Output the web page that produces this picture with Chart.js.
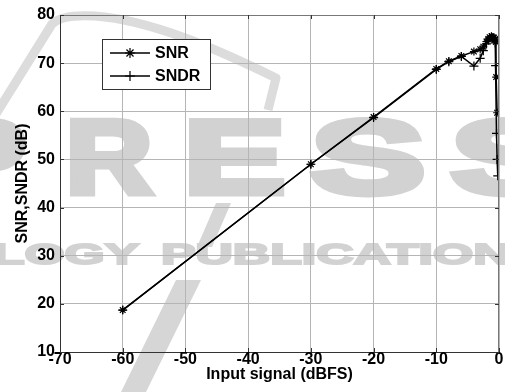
<!DOCTYPE html>
<html>
<head>
<meta charset="utf-8">
<script src="https://cdn.jsdelivr.net/npm/chart.js@4.4.0/dist/chart.umd.min.js"></script>
<style>
  html, body { margin: 0; padding: 0; background: #fff; }
</style>
</head>
<body>
<canvas id="snrChart" width="505" height="392"></canvas>
<script>
// SNR / SNDR vs input level
const snrInput   = [-60, -30, -20, -10, -8, -6, -4, -3, -2.5, -2, -1.7, -1.5, -1.2, -1, -0.8, -0.6, -0.5, -0.45, -0.3];
const snrValues  = [18.7, 49.0, 58.8, 68.8, 70.4, 71.5, 72.4, 72.9, 73.4, 74.5, 75.0, 75.4, 75.6, 75.4, 75.3, 75.0, 74.4, 67.1, 59.7];
const sndrInput  = [-60, -30, -20, -10, -8, -6, -4, -3, -2.5, -2, -1.7, -1.5, -1.2, -1, -0.8, -0.6, -0.55, -0.4, -0.3, -0.2];
const sndrValues = [18.7, 49.0, 58.7, 68.7, 70.3, 71.4, 69.4, 71.0, 72.6, 74.0, 74.8, 75.2, 75.4, 75.2, 75.0, 74.2, 69.5, 55.4, 50.0, 46.6];

const xMin = -70, xMax = 0, xStep = 10;
const yMin = 10, yMax = 80, yStep = 10;

const FONT = '"Liberation Sans", Arial, Helvetica, sans-serif';

function toPoints(xs, ys) {
  return xs.map((x, i) => ({ x: x, y: ys[i] }));
}

// draw a word stretched into [x0, x1] and thickened with a stroke
function wideText(c, txt, x0, x1, base, lw) {
  const w = c.measureText(txt).width;
  const sx = (x1 - x0) / w;
  c.save();
  c.translate(x0, base);
  c.scale(sx, 1);
  c.lineWidth = lw;
  c.fillText(txt, 0, 0);
  c.strokeText(txt, 0, 0);
  c.restore();
}

// publisher watermark behind the plot
const watermark = {
  id: 'watermark',
  beforeDraw(chart) {
    const c = chart.ctx;
    c.save();
    // swoosh
    c.strokeStyle = '#dcdcdc';
    c.lineWidth = 9;
    c.lineJoin = 'round';
    c.beginPath();
    c.moveTo(-4, 114);
    c.lineTo(52, 24);
    c.quadraticCurveTo(62, 14, 95, 16);
    c.bezierCurveTo(150, 20, 215, 48, 276, 78);
    c.lineTo(268, 110);
    c.stroke();
    // slashes
    c.fillStyle = '#d6d6d6';
    [[[176, 280], [201, 280], [146, 392], [121, 392]],
     [[216, 203], [231, 203], [212, 247], [197, 247]]].forEach(poly => {
      c.beginPath();
      c.moveTo(poly[0][0], poly[0][1]);
      poly.slice(1).forEach(p => c.lineTo(p[0], p[1]));
      c.closePath();
      c.fill();
    });
    // big letters
    c.fillStyle = '#d2d2d2';
    c.strokeStyle = '#d2d2d2';
    c.lineJoin = 'miter';
    c.textBaseline = 'alphabetic';
    c.font = 'bold 104px ' + FONT;
    [['P', -58, 26], ['R', 66, 152], ['E', 184, 285], ['S', 311, 425], ['S', 451, 565]].forEach(l => {
      wideText(c, l[0], l[1], l[2], 193, 7);
    });
    c.font = 'bold 30px ' + FONT;
    wideText(c, 'LOGY', -7, 139, 264, 2);
    wideText(c, 'PUBLICATIONS', 161, 545, 264, 2);
    c.restore();
  }
};

// top + right border of the box, inward ticks
const framePlugin = {
  id: 'frame',
  afterDraw(chart) {
    const a = chart.chartArea;
    const c = chart.ctx;
    const xs = chart.scales.x, ys = chart.scales.y;
    c.save();
    c.strokeStyle = '#777';
    c.lineWidth = 1;
    c.beginPath();
    c.moveTo(a.left, a.top + 0.5);
    c.lineTo(a.right - 0.5, a.top + 0.5);
    c.lineTo(a.right - 0.5, a.bottom);
    c.stroke();
    c.strokeStyle = '#333';
    c.beginPath();
    xs.ticks.forEach(t => {
      const px = Math.round(xs.getPixelForValue(t.value)) + 0.5;
      c.moveTo(px, a.bottom); c.lineTo(px, a.bottom - 4);
      c.moveTo(px, a.top); c.lineTo(px, a.top + 4);
    });
    ys.ticks.forEach(t => {
      const py = Math.round(ys.getPixelForValue(t.value)) + 0.5;
      c.moveTo(a.left, py); c.lineTo(a.left + 4, py);
      c.moveTo(a.right, py); c.lineTo(a.right - 4, py);
    });
    c.stroke();
    c.restore();
  }
};

// matlab style legend box inside the axes
const legendBox = {
  id: 'legendBox',
  afterDraw(chart) {
    const c = chart.ctx;
    const x0 = 102.5, y0 = 39.5, w = 108, h = 50;
    c.save();
    c.fillStyle = '#fff';
    c.fillRect(x0, y0, w, h);
    c.strokeStyle = '#333';
    c.lineWidth = 1;
    c.strokeRect(x0, y0, w, h);
    chart.data.datasets.forEach((ds, i) => {
      const y = 53 + i * 23;
      c.strokeStyle = '#000';
      c.lineWidth = 1.5;
      c.beginPath();
      c.moveTo(110, y);
      c.lineTo(150, y);
      c.stroke();
      c.lineWidth = 1.2;
      Chart.helpers.drawPoint(c, { pointStyle: ds.pointStyle, radius: 5, rotation: 0, borderWidth: 1.2 }, 130, y);
      c.fillStyle = '#000';
      c.font = 'bold 16px ' + FONT;
      c.textBaseline = 'middle';
      c.fillText(ds.label, 155, y + 1);
    });
    c.restore();
  }
};

const ctx = document.getElementById('snrChart').getContext('2d');
const chart = new Chart(ctx, {
  type: 'line',
  data: {
    datasets: [{
      label: 'SNR',
      data: toPoints(snrInput, snrValues),
      borderColor: '#000',
      backgroundColor: '#000',
      borderWidth: 1.5,
      pointStyle: 'star',
      pointRadius: 4,
      pointBorderWidth: 1.2,
      pointBorderColor: '#000',
      fill: false,
      tension: 0
    }, {
      label: 'SNDR',
      data: toPoints(sndrInput, sndrValues),
      borderColor: '#000',
      backgroundColor: '#000',
      borderWidth: 1.5,
      pointStyle: 'cross',
      pointRadius: 4.5,
      pointBorderWidth: 1.2,
      pointBorderColor: '#000',
      fill: false,
      tension: 0
    }]
  },
  options: {
    responsive: false,
    animation: false,
    layout: { padding: { left: 9, right: 6, top: 15, bottom: 0 } },
    plugins: {
      legend: { display: false },
      tooltip: { enabled: false }
    },
    scales: {
      x: {
        type: 'linear',
        min: xMin,
        max: xMax,
        afterFit: s => { s.height = 40; },
        ticks: {
          stepSize: xStep,
          color: '#000',
          padding: 0,
          maxRotation: 0,
          font: { family: FONT, size: 16, weight: 'bold', lineHeight: 1.0 }
        },
        grid: { color: '#b5b5b5', borderDash: [1, 2], drawTicks: false },
        border: { display: true, color: '#333', width: 1, dash: [] },
        title: {
          display: true,
          text: 'Input signal (dBFS)',
          color: '#000',
          padding: { top: 0, bottom: 8 },
          font: { family: FONT, size: 16, weight: 'bold' }
        }
      },
      y: {
        type: 'linear',
        min: yMin,
        max: yMax,
        afterFit: s => { s.width = 51; },
        ticks: {
          stepSize: yStep,
          color: '#000',
          padding: 5,
          font: { family: FONT, size: 16, weight: 'bold' }
        },
        grid: { color: '#b5b5b5', borderDash: [1, 2], drawTicks: false },
        border: { display: true, color: '#333', width: 1, dash: [] },
        title: {
          display: true,
          text: 'SNR,SNDR (dB)',
          color: '#000',
          padding: { top: 4, bottom: 0 },
          font: { family: FONT, size: 16, weight: 'bold' }
        }
      }
    }
  },
  plugins: [watermark, framePlugin, legendBox]
});
</script>
</body>
</html>
